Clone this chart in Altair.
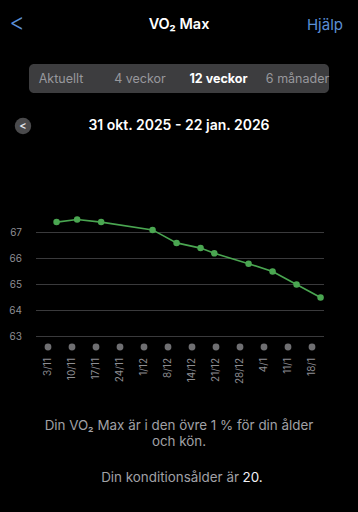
import altair as alt
import pandas as pd

# ---- data ----
period_start = "2025-10-31"
period_end = "2026-01-23"
point_dates = ["2025-11-06", "2025-11-12", "2025-11-19", "2025-12-04", "2025-12-11",
               "2025-12-18", "2025-12-22", "2026-01-01", "2026-01-08", "2026-01-15",
               "2026-01-22"]
vo2_values = [67.4, 67.5, 67.4, 67.1, 66.6, 66.4, 66.2, 65.8, 65.5, 65.0, 64.5]
week_dates = ["2025-11-03", "2025-11-10", "2025-11-17", "2025-11-24", "2025-12-01",
              "2025-12-08", "2025-12-15", "2025-12-22", "2025-12-29", "2026-01-05",
              "2026-01-12", "2026-01-19"]
week_labels = ["3/11", "10/11", "17/11", "24/11", "1/12", "8/12", "14/12", "21/12",
               "28/12", "4/1", "11/1", "18/1"]
y_ticks = [63, 64, 65, 66, 67]
segments = ["Aktuellt", "4 veckor", "12 veckor", "6 månader"]

FONT = "Inter"
GREY = "#8e8e93"
BLUE = "#5b8fd6"

start = pd.Timestamp(period_start)
n_days = (pd.Timestamp(period_end) - start).days

pts = pd.DataFrame({
    "date": point_dates,
    "day": [(pd.Timestamp(d) - start).days for d in point_dates],
    "vo2": vo2_values,
})
weeks = pd.DataFrame({
    "day": [(pd.Timestamp(d) - start).days + 0.5 for d in week_dates],
    "label": week_labels,
})
grid = pd.DataFrame({"v": y_ticks})

xscale = alt.Scale(domain=[0, n_days], range=[36, 324], zero=False, nice=False)
yscale = alt.Scale(domain=[63, 67], range=[336.5, 232.5], zero=False, nice=False)


def txt(s, x, y, size=14, color="white", weight=400, align="center"):
    return alt.Chart(pd.DataFrame({"t": [s]})).mark_text(
        font=FONT, fontSize=size, color=color, fontWeight=weight,
        align=align, baseline="middle"
    ).encode(text="t:N", x=alt.value(x), y=alt.value(y))


gridlines = alt.Chart(grid).mark_rule(color="#3a3a3c", strokeWidth=1).encode(
    y=alt.Y("v:Q", scale=yscale, axis=None),
    x=alt.value(36), x2=alt.value(324),
)
ylabels = alt.Chart(grid).mark_text(
    font=FONT, fontSize=10, color=GREY, align="right", baseline="middle"
).encode(
    y=alt.Y("v:Q", scale=yscale, axis=None),
    x=alt.value(22),
    text="v:Q",
)
week_dots = alt.Chart(weeks).mark_circle(size=46, color="#6f6f72", opacity=1).encode(
    x=alt.X("day:Q", scale=xscale, axis=None),
    y=alt.value(347),
)
week_text = alt.Chart(weeks).mark_text(
    font=FONT, fontSize=10, color=GREY, angle=270, align="right", baseline="middle"
).encode(
    x=alt.X("day:Q", scale=xscale, axis=None),
    y=alt.value(358),
    text="label:N",
)
line = alt.Chart(pts).mark_line(color="#4aa651", strokeWidth=1.6).encode(
    x=alt.X("day:Q", scale=xscale, axis=None),
    y=alt.Y("vo2:Q", scale=yscale, axis=None),
)
dots = alt.Chart(pts).mark_circle(size=42, color="#4aa651", opacity=1).encode(
    x=alt.X("day:Q", scale=xscale, axis=None),
    y=alt.Y("vo2:Q", scale=yscale, axis=None),
)

seg_bg = alt.Chart(pd.DataFrame({"a": [0]})).mark_rect(
    color="#3d3d3f", cornerRadius=5
).encode(x=alt.value(29), x2=alt.value(329), y=alt.value(64), y2=alt.value(93))

btn = alt.Chart(pd.DataFrame({"a": [0]})).mark_circle(
    size=270, color="#4a4a4c", opacity=1
).encode(x=alt.value(23), y=alt.value(126))

LIGHT = "#a1a1a6"
layers = [
    txt("<", 17, 24, size=24, color=BLUE, weight=300),
    txt("VO₂ Max", 179, 25, size=14.5, weight=600),
    txt("Hjälp", 343, 25, size=15, color=BLUE, align="right"),
    seg_bg,
    txt(segments[0], 61, 79, size=12.5, color="#98989d"),
    txt(segments[1], 140, 79, size=12.5, color="#98989d"),
    txt(segments[2], 218.5, 79, size=12.5, weight=700),
    txt(segments[3], 297.5, 79, size=12.5, color="#98989d"),
    btn,
    txt("<", 23, 125.5, size=11, weight=600, color="#e5e5ea"),
    txt("31 okt. 2025 - 22 jan. 2026", 179, 126, size=14, weight=600),
    gridlines, ylabels, week_dots, week_text, line, dots,
    txt("Din VO₂ Max är i den övre 1 % för din ålder", 179, 426, size=13.4, color=LIGHT),
    txt("och kön.", 179, 442, size=13.4, color=LIGHT),
    txt("Din konditionsålder är", 239, 478, size=13.4, color=LIGHT, align="right"),
    txt("20.", 242.5, 478, size=13.4, color="#f2f2f7", align="left"),
]

chart = alt.layer(*layers).properties(
    width=358, height=512, background="black",
    autosize=alt.AutoSizeParams(type="none"), padding=0,
).configure_view(stroke=None)

chart.save("out.html", embed_options={"renderer": "svg", "actions": False})
